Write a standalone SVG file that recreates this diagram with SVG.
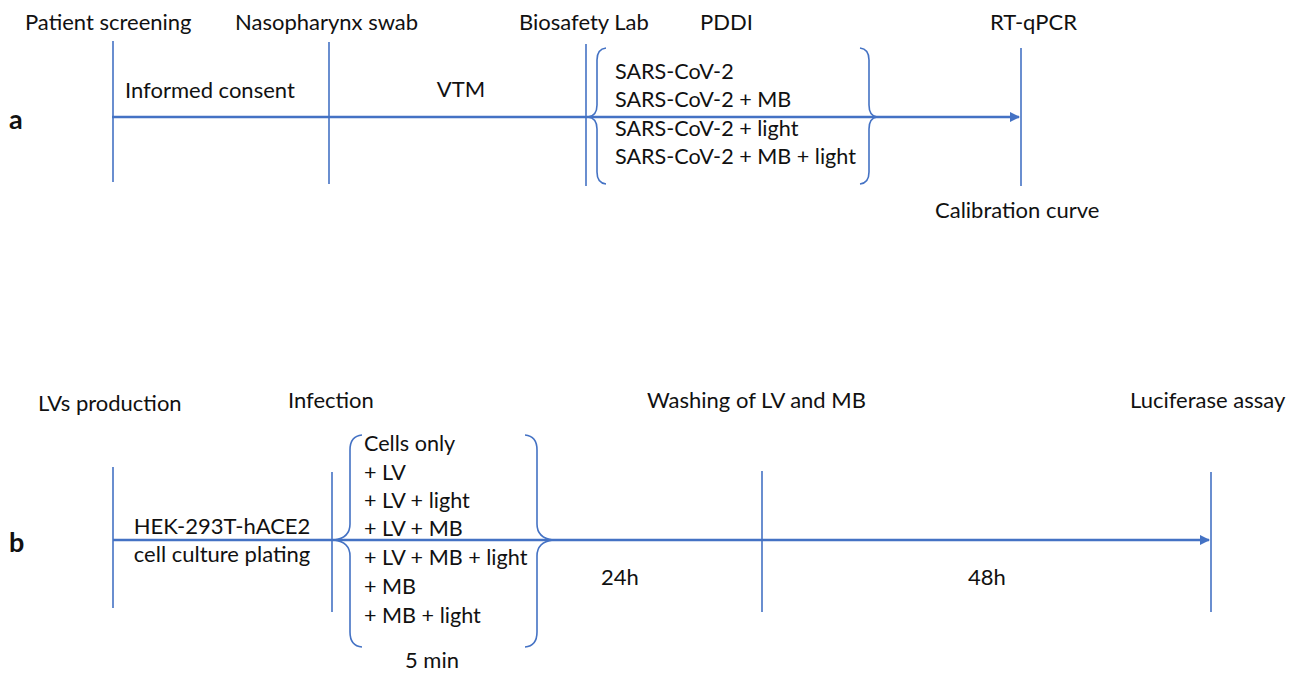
<svg xmlns="http://www.w3.org/2000/svg" width="1299" height="674" viewBox="0 0 1299 674">
  <style>
    text { font-family: Lato, "Open Sans", "Liberation Sans", sans-serif; font-size: 22px; fill: #111; }
    .list { font-size: 21.6px; }
    .panel { font-weight: bold; font-size: 27px; }
    .tick { stroke: #4472C4; stroke-width: 1.6; fill: none; }
    .axis { stroke: #4472C4; stroke-width: 2.6; fill: none; }
    .brace { stroke: #4472C4; stroke-width: 1.6; fill: none; }
  </style>
  <defs>
    <marker id="arrow" viewBox="0 0 10 10" refX="9" refY="5" markerWidth="4" markerHeight="4" orient="auto" markerUnits="strokeWidth">
      <path d="M0,0 L10,5 L0,10 z" fill="#4472C4"/>
    </marker>
  </defs>

  <rect width="1299" height="674" fill="#fff"/>

  <!-- Panel a: timeline -->
  <g id="connectors-a">
    <line class="axis" x1="112" y1="117" x2="1019" y2="117" marker-end="url(#arrow)"/>
  </g>
  <text class="panel" x="9" y="129">a</text>

  <g id="patient-screening">
    <line class="tick" x1="113" y1="41" x2="113" y2="182"/>
    <text x="25" y="30">Patient screening</text>
    <text x="125" y="98">Informed consent</text>
  </g>
  <g id="nasopharynx-swab">
    <line class="tick" x1="329" y1="42" x2="329" y2="184"/>
    <text x="235" y="30">Nasopharynx swab</text>
    <text x="461" y="97" text-anchor="middle">VTM</text>
  </g>
  <g id="biosafety-lab">
    <line class="tick" x1="586" y1="44" x2="586" y2="186"/>
    <text x="519" y="30">Biosafety Lab</text>
  </g>
  <g id="pddi">
    <text x="700" y="30">PDDI</text>
    <path class="brace" d="M606,48 Q597,49 597,60 L597,105 Q597,116 588,117 Q597,118 597,129 L597,172 Q597,183 606,184"/>
    <path class="brace" d="M860,48 Q869,49 869,60 L869,105 Q869,116 877,117 Q869,118 869,129 L869,172 Q869,183 860,184"/>
    <text class="list" x="615" y="79">SARS-CoV-2</text>
    <text class="list" x="615" y="107">SARS-CoV-2 + MB</text>
    <text class="list" x="615" y="136">SARS-CoV-2 + light</text>
    <text class="list" x="615" y="164">SARS-CoV-2 + MB + light</text>
  </g>
  <g id="rt-qpcr">
    <line class="tick" x1="1021" y1="48" x2="1021" y2="186"/>
    <text x="990" y="30">RT-qPCR</text>
    <text x="935" y="218">Calibration curve</text>
  </g>

  <!-- Panel b: timeline -->
  <g id="connectors-b">
    <line class="axis" x1="113" y1="540" x2="1209" y2="540" marker-end="url(#arrow)"/>
  </g>
  <text class="panel" x="9" y="552">b</text>

  <g id="lvs-production">
    <line class="tick" x1="113" y1="467" x2="113" y2="608"/>
    <text x="38" y="411">LVs production</text>
    <text x="222" y="534" text-anchor="middle">HEK-293T-hACE2</text>
    <text x="222" y="562" text-anchor="middle">cell culture plating</text>
  </g>
  <g id="infection">
    <line class="tick" x1="332" y1="472" x2="332" y2="612"/>
    <text x="288" y="408">Infection</text>
    <path class="brace" d="M362,435 Q350,436 350,450 L350,524 Q350,538 334,540 Q350,542 350,556 L350,632 Q350,646 362,647"/>
    <path class="brace" d="M525,435 Q537,436 537,450 L537,524 Q537,538 553,540 Q537,542 537,556 L537,632 Q537,646 525,647"/>
    <text class="list" x="364" y="451">Cells only</text>
    <text class="list" x="364" y="480">+ LV</text>
    <text class="list" x="364" y="508">+ LV + light</text>
    <text class="list" x="364" y="536">+ LV + MB</text>
    <text class="list" x="364" y="565">+ LV + MB + light</text>
    <text class="list" x="364" y="594">+ MB</text>
    <text class="list" x="364" y="623">+ MB + light</text>
    <text x="432" y="668" text-anchor="middle">5 min</text>
  </g>
  <g id="washing">
    <line class="tick" x1="762" y1="471" x2="762" y2="612"/>
    <text x="647" y="408">Washing of LV and MB</text>
    <text x="620" y="585" text-anchor="middle">24h</text>
  </g>
  <g id="luciferase-assay">
    <line class="tick" x1="1211" y1="472" x2="1211" y2="612"/>
    <text x="1130" y="408">Luciferase assay</text>
    <text x="987" y="585" text-anchor="middle">48h</text>
  </g>
</svg>
